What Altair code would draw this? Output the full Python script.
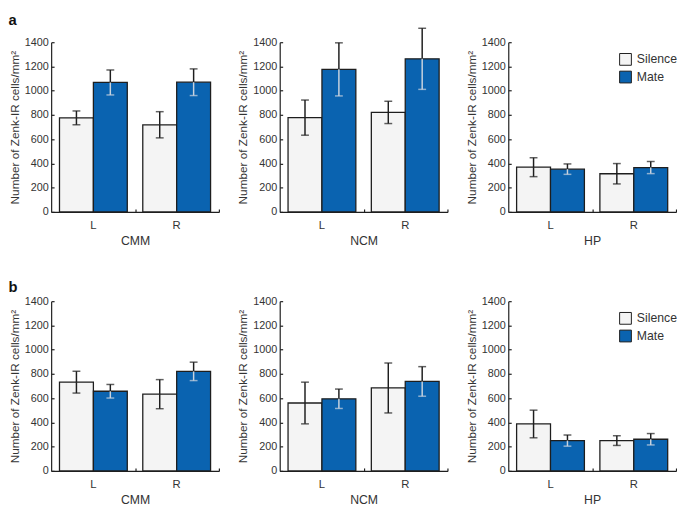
import altair as alt
import pandas as pd

regions = ["CMM", "NCM", "HP"]
sides = ["L", "R"]
groups = ["Silence", "Mate"]

# order: CMM L, CMM R, NCM L, NCM R, HP L, HP R
a_silence_mean = [776, 719, 778, 821, 369, 315]
a_silence_err = [57, 108, 145, 92, 78, 84]
a_mate_mean = [1068, 1070, 1176, 1263, 353, 366]
a_mate_err = [103, 110, 219, 252, 43, 50]

b_silence_mean = [732, 633, 560, 684, 387, 250]
b_silence_err = [90, 120, 172, 206, 114, 40]
b_mate_mean = [657, 821, 595, 738, 250, 261]
b_mate_err = [56, 76, 80, 122, 46, 47]

y_ticks = [0, 200, 400, 600, 800, 1000, 1200, 1400]

rows = []
for panel, sm, se, mm, me in [
    ("a", a_silence_mean, a_silence_err, a_mate_mean, a_mate_err),
    ("b", b_silence_mean, b_silence_err, b_mate_mean, b_mate_err),
]:
    i = 0
    for r in regions:
        for s in sides:
            for g, means, errs in [("Silence", sm, se), ("Mate", mm, me)]:
                rows.append(dict(panel=panel, region=r, side=s, group=g,
                                 mean=means[i], err=errs[i],
                                 hi=means[i] + errs[i], lo=means[i] - errs[i]))
            i += 1
df = pd.DataFrame(rows)

FONT = "Liberation Sans"
TXT = "#333333"
INK = "#1e1e1e"
W = 171
H = 173
PAD_IN = 0.186
PAD_OUT = 0.1
YTITLE = "Number of Zenk-IR cells/mm\u00b2"


def panel(p, region, legend):
    sub = df[(df.panel == p) & (df.region == region)]
    base = alt.Chart(sub)
    xscale = alt.Scale(paddingInner=PAD_IN, paddingOuter=PAD_OUT)
    yscale = alt.Scale(domain=[0, 1400], nice=False)
    xoff = alt.XOffset("group:N", sort=groups, scale=alt.Scale(paddingInner=0, paddingOuter=0))

    if legend:
        leg = alt.Legend(title=None, orient="none", legendX=113, legendY=11,
                         symbolType="square", symbolSize=144, symbolStrokeColor=INK,
                         symbolStrokeWidth=1, labelFontSize=12.5, labelFont=FONT,
                         labelColor=TXT, labelOffset=5, rowPadding=1, padding=0)
    else:
        leg = None

    bars = base.mark_bar(stroke=INK, strokeWidth=1.3).encode(
        x=alt.X("side:N", sort=sides, scale=xscale,
                axis=alt.Axis(title=region, labelAngle=0, ticks=False, tickSize=0,
                              labelPadding=8, titlePadding=4, domainColor=INK,
                              domainWidth=1.2)),
        xOffset=xoff,
        y=alt.Y("mean:Q", scale=yscale,
                axis=alt.Axis(title=YTITLE, values=y_ticks, format="d", ticks=False,
                              tickSize=0, labelPadding=3, titlePadding=3,
                              domainColor=INK, domainWidth=1.2, grid=False)),
        color=alt.Color("group:N", sort=groups,
                        scale=alt.Scale(domain=groups, range=["#f4f4f4", "#0a63b0"]),
                        legend=leg),
    )

    # inward tick marks (axes overlay)
    up = base.mark_rule(color=INK, strokeWidth=1.5).encode(
        x=alt.X("side:N", sort=sides, scale=xscale,
                axis=alt.Axis(orient="top", offset=-H, labels=False, domain=False,
                              title=None, tickSize=3, tickColor=INK, tickWidth=1.2,
                              bandPosition=1, tickExtra=False, tickOffset=8)),
        xOffset=xoff,
        y=alt.Y("mean:Q", scale=yscale,
                axis=alt.Axis(orient="right", offset=-W, labels=False, domain=False,
                              title=None, values=y_ticks, tickSize=3, tickColor=INK,
                              tickWidth=1.2, grid=False)),
        y2="hi:Q",
    )
    lowcol = alt.condition("datum.group == 'Mate'", alt.value("#c9d3de"), alt.value(INK))
    down = base.mark_rule(strokeWidth=1.5).encode(
        x=alt.X("side:N", sort=sides, scale=xscale, axis=None),
        xOffset=xoff,
        y=alt.Y("lo:Q", scale=yscale, axis=None),
        y2="mean:Q",
        color=lowcol,
    )
    capt = base.mark_tick(size=8, thickness=1.5, color=INK).encode(
        x=alt.X("side:N", sort=sides, scale=xscale, axis=None),
        xOffset=xoff,
        y=alt.Y("hi:Q", scale=yscale, axis=None),
    )
    capb = base.mark_tick(size=8, thickness=1.5).encode(
        x=alt.X("side:N", sort=sides, scale=xscale, axis=None),
        xOffset=xoff,
        y=alt.Y("lo:Q", scale=yscale, axis=None),
        color=lowcol,
    )
    return alt.layer(bars, up, down, capt, capb).resolve_axis(
        x="independent", y="independent"
    ).properties(width=W, height=H)


def row(p):
    return alt.hconcat(
        *[panel(p, r, r == "HP") for r in regions],
        spacing=17,
        title=alt.TitleParams(p, anchor="start", fontSize=15, fontWeight="bold",
                              font=FONT, color="#111111", offset=0),
    ).resolve_legend(color="independent")


chart = alt.vconcat(row("a"), row("b"), spacing=34).properties(
    padding=0
).configure_view(stroke=None).configure_axis(
    labelFont=FONT, titleFont=FONT, labelFontSize=11.5, labelColor=TXT,
    titleColor=TXT, titleFontWeight="normal", titleFontSize=12.5
).configure_axisY(titleFontSize=12, labelFontSize=11)

chart.save("out.html", embed_options={"renderer": "svg", "actions": False})
